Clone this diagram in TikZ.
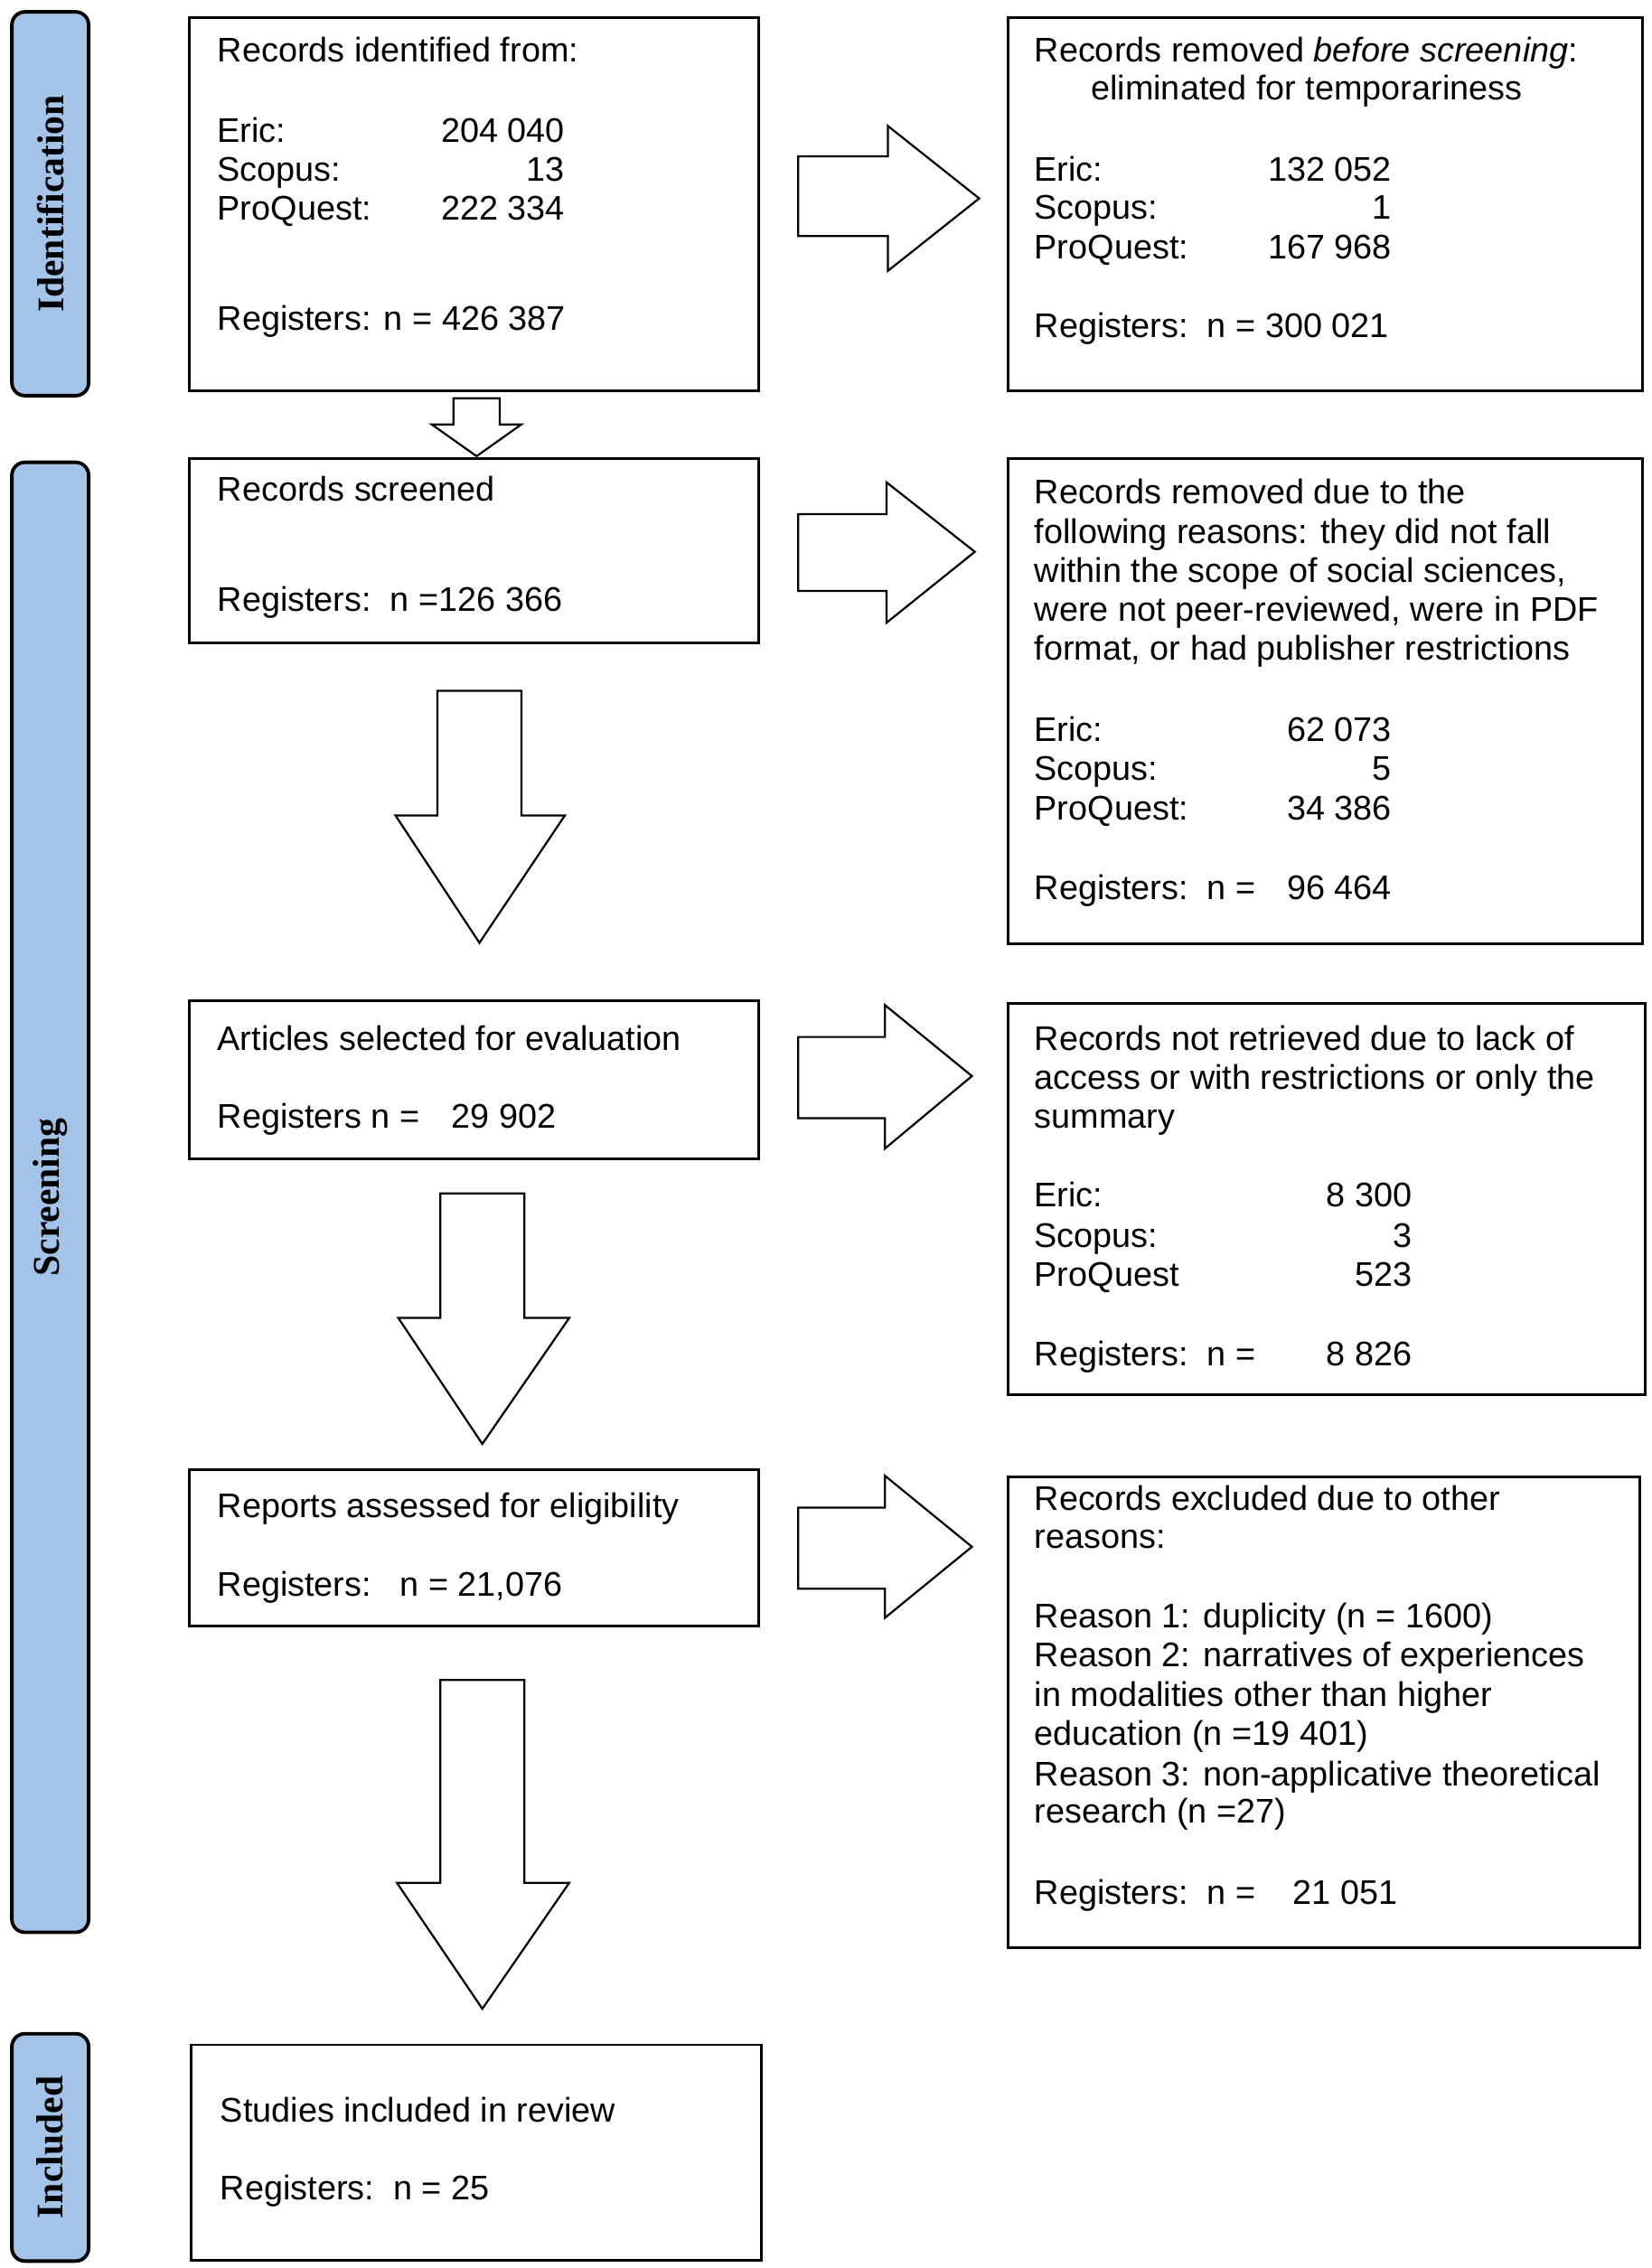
\documentclass[tikz,border=0pt]{standalone}
\usepackage{fontspec}
\setmainfont{Liberation Sans}
\newfontfamily\barfont{Liberation Serif}
\definecolor{barblue}{RGB}{163,196,232}
\tikzset{
  box/.style={draw=black, line width=1.8pt, fill=white, anchor=north west, inner sep=0pt},
  phase/.style={draw=black, line width=2.4pt, fill=barblue, rounded corners=9pt, anchor=north west, inner sep=0pt, minimum width=53pt},
  phasetxt/.style={rotate=90, font=\barfont\fontsize{26}{30}\selectfont\bfseries, inner sep=0pt},
  tl/.style={anchor=base west, inner sep=0pt, font=\fontsize{23.6}{27}\selectfont},
  tr/.style={anchor=base east, inner sep=0pt, font=\fontsize{23.6}{27}\selectfont},
  barrow/.style={draw=black, line width=1.4pt, fill=white, line join=miter},
}
\begin{document}
\begin{tikzpicture}[x=1pt,y=-1pt]
\useasboundingbox (0,0) rectangle (1140,1566);

% phase bars
\node[phase, minimum height=265pt] (pI) at (7,7) {};
\node[phasetxt] (pIt) at (pI.center) {Identification};
\node[phase, minimum height=1015pt] (pS) at (7,318) {};
\node[phasetxt] (pSt) at (pS.center) {Screening};
\node[phase, minimum height=157pt] (pN) at (7,1403) {};
\node[phasetxt] (pNt) at (pN.center) {Included};

% left boxes
\node[box, minimum width=393pt, minimum height=258pt] (b1) at (130,11) {};
\node[box, minimum width=393pt, minimum height=127pt] (b2) at (130,316) {};
\node[box, minimum width=393pt, minimum height=109pt] (b3) at (130,690) {};
\node[box, minimum width=393pt, minimum height=108pt] (b4) at (130,1014) {};
\node[box, minimum width=394pt, minimum height=149pt] (b5) at (131,1411) {};

% right boxes
\node[box, minimum width=438pt, minimum height=258pt] (r1) at (695,11) {};
\node[box, minimum width=438pt, minimum height=335pt] (r2) at (695,316) {};
\node[box, minimum width=440pt, minimum height=270pt] (r3) at (695,692) {};
\node[box, minimum width=436pt, minimum height=325pt] (r4) at (695,1019) {};

% block arrows right
\draw[barrow] (551,108) -- (613,108) -- (613,87) -- (676,137) -- (613,187) -- (613,163) -- (551,163) -- cycle;
\draw[barrow] (551,355) -- (612,355) -- (612,333) -- (673,381) -- (612,430) -- (612,408) -- (551,408) -- cycle;
\draw[barrow] (551,716) -- (611,716) -- (611,694) -- (671,743) -- (611,793) -- (611,772) -- (551,772) -- cycle;
\draw[barrow] (551,1041) -- (611,1041) -- (611,1019) -- (671,1068) -- (611,1117) -- (611,1097) -- (551,1097) -- cycle;

% block arrows down
\draw[barrow] (313,275) -- (345,275) -- (345,293) -- (360,293) -- (329,315) -- (298,293) -- (313,293) -- cycle;
\draw[barrow] (302,477) -- (360,477) -- (360,563) -- (390,563) -- (331,651) -- (273,563) -- (302,563) -- cycle;
\draw[barrow] (304,824) -- (362,824) -- (362,910) -- (393,910) -- (333,997) -- (275,910) -- (304,910) -- cycle;
\draw[barrow] (304,1160) -- (362,1160) -- (362,1300) -- (393,1300) -- (333,1387) -- (274,1300) -- (304,1300) -- cycle;

% box 1 text
\node[tl] (b1a) at (150,43) {Records identified from:};
\node[tl] (b1b) at (150,98) {Eric:};
\node[tr] (b1bn) at (390,98) {204 040};
\node[tl] (b1c) at (150,125) {Scopus:};
\node[tr] (b1cn) at (390,125) {13};
\node[tl] (b1d) at (150,152) {ProQuest:};
\node[tr] (b1dn) at (390,152) {222 334};
\node[tl] (b1e) at (150,228) {Registers: n = 426 387};

% right 1 text
\node[tl] (r1a) at (714,43) {Records removed \textit{before screening}:};
\node[tl] (r1b) at (753,69) {eliminated for temporariness};
\node[tl] (r1c) at (714,125) {Eric:};
\node[tr] (r1cn) at (961,125) {132 052};
\node[tl] (r1d) at (714,151) {Scopus:};
\node[tr] (r1dn) at (961,151) {1};
\node[tl] (r1e) at (714,179) {ProQuest:};
\node[tr] (r1en) at (961,179) {167 968};
\node[tl] (r1f) at (714,233) {Registers:\ \ n = 300 021};

% box 2 text
\node[tl] (b2a) at (150,346) {Records screened};
\node[tl] (b2b) at (150,422) {Registers:\ \ n =126 366};

% right 2 text
\node[tl] (r2a) at (714,348) {Records removed due to the};
\node[tl] (r2b) at (714,375) {following reasons: they did not fall};
\node[tl] (r2c) at (714,402) {within the scope of social sciences,};
\node[tl] (r2d) at (714,429) {were not peer-reviewed, were in PDF};
\node[tl] (r2e) at (714,456) {format, or had publisher restrictions};
\node[tl] (r2f) at (714,512) {Eric:};
\node[tr] (r2fn) at (961,512) {62 073};
\node[tl] (r2g) at (714,539) {Scopus:};
\node[tr] (r2gn) at (961,539) {5};
\node[tl] (r2h) at (714,566) {ProQuest:};
\node[tr] (r2hn) at (961,566) {34 386};
\node[tl] (r2i) at (714,621) {Registers:\ \ n =};
\node[tr] (r2in) at (961,621) {96 464};

% box 3 text
\node[tl] (b3a) at (150,725) {Articles selected for evaluation};
\node[tl] (b3b) at (150,779) {Registers n =};
\node[tr] (b3bn) at (384,779) {29 902};

% right 3 text
\node[tl] (r3a) at (714,725) {Records not retrieved due to lack of};
\node[tl] (r3b) at (714,752) {access or with restrictions or only the};
\node[tl] (r3c) at (714,779) {summary};
\node[tl] (r3d) at (714,833) {Eric:};
\node[tr] (r3dn) at (975,833) {8 300};
\node[tl] (r3e) at (714,861) {Scopus:};
\node[tr] (r3en) at (975,861) {3};
\node[tl] (r3f) at (714,888) {ProQuest};
\node[tr] (r3fn) at (975,888) {523};
\node[tl] (r3g) at (714,943) {Registers:\ \ n =};
\node[tr] (r3gn) at (975,943) {8 826};

% box 4 text
\node[tl] (b4a) at (150,1048) {Reports assessed for eligibility};
\node[tl] (b4b) at (150,1102) {Registers:\ \ \ n = 21,076};

% right 4 text
\node[tl] (r4a) at (714,1043) {Records excluded due to other};
\node[tl] (r4b) at (714,1069) {reasons:};
\node[tl] (r4c) at (714,1124) {Reason 1: duplicity (n = 1600)};
\node[tl] (r4d) at (714,1151) {Reason 2: narratives of experiences};
\node[tl] (r4e) at (714,1178) {in modalities other than higher};
\node[tl] (r4f) at (714,1205) {education (n =19 401)};
\node[tl] (r4g) at (714,1233) {Reason 3: non-applicative theoretical};
\node[tl] (r4h) at (714,1259) {research (n =27)};
\node[tl] (r4i) at (714,1315) {Registers:\ \ n =};
\node[tr] (r4in) at (965,1315) {21 051};

% box 5 text
\node[tl] (b5a) at (152,1465) {Studies included in review};
\node[tl] (b5b) at (152,1519) {Registers:\ \ n = 25};
\end{tikzpicture}
\end{document}
